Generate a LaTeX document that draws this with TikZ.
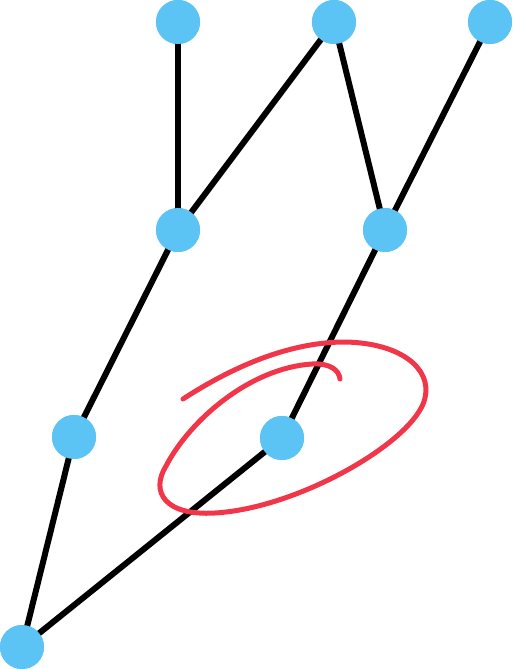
\documentclass[tikz,border=0pt]{standalone}
\usepackage{tikz}
\definecolor{dotblue}{HTML}{5BC4F5}
\definecolor{penred}{HTML}{F2364A}
\begin{document}
\begin{tikzpicture}[x=1pt,y=-1pt,line width=6pt]
        \useasboundingbox (0,0) rectangle (513,669);
        \tikzset{dot/.style={circle, fill=dotblue, inner sep=0pt, minimum size=44pt}}
        % top row
        \node[dot] (t1) at (178,22) {};
        \node[dot] (t2) at (334,22) {};
        \node[dot] (t3) at (490,22) {};
        % middle row
        \node[dot] (m1) at (178,230) {};
        \node[dot] (m2) at (385,230) {};
        % lower row
        \node[dot] (l1) at (74,437) {};
        \node[dot] (l2) at (282,438) {};
        % root
        \node[dot] (r) at (22,647) {};
        \foreach \a/\b in {t1/m1,t2/m1,t2/m2,t3/m2,m1/l1,m2/l2,l1/r,l2/r} {
            \draw[black] (\a.center) -- (\b.center);
        }
        \foreach \n in {t1,t2,t3,m1,m2,l1,l2,r} {
            \node[dot] at (\n) {};
        }
        % circled node
        \draw[penred, line width=5pt, line cap=round]
            (183,399) .. controls (240,362) and (295,342) .. (345,342)
            .. controls (400,343) and (432,368) .. (425,398)
            .. controls (416,440) and (300,508) .. (215,513)
            .. controls (165,516) and (150,492) .. (166,466)
            .. controls (190,420) and (250,368) .. (312,364)
            .. controls (330,363) and (339,370) .. (340,379);
\end{tikzpicture}
\end{document}
